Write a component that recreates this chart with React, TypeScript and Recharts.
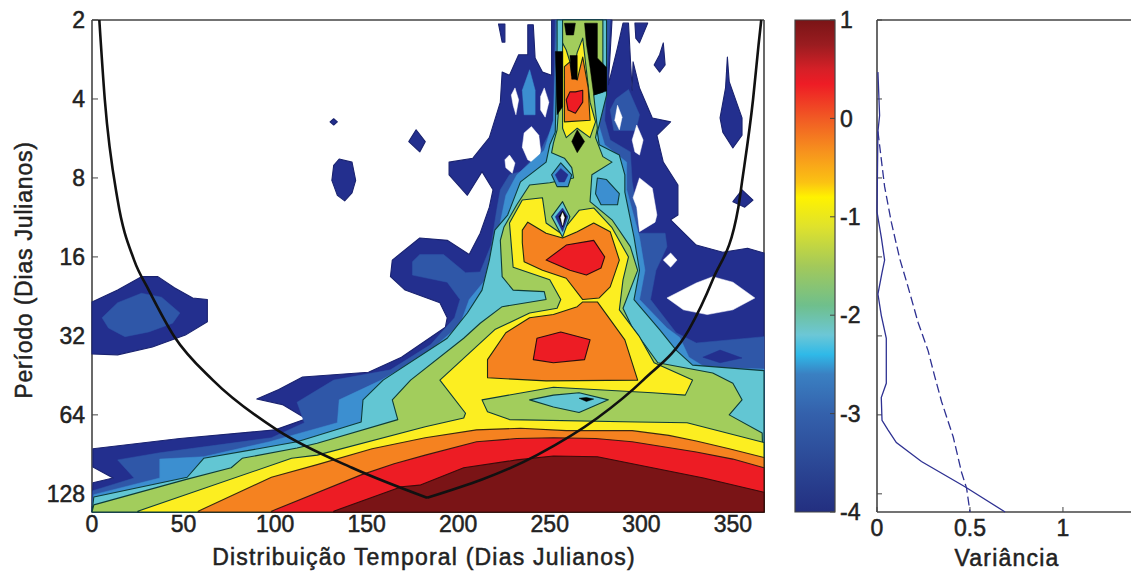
import { ScatterChart, Scatter, BarChart, Bar, XAxis, YAxis } from "recharts";

type Pt = [number, number];

// contour outlines: [julian day, log2(period)]
const navyMain: Pt[] = [[0,7.23],[0.5,6.86],[11.5,6.8],[0.5,6.66],[0.5,6.43],[48,6.3],[100,6.19],[117,6.05],[104,5.87],[90,5.8],[102,5.68],[115,5.52],[151,5.46],[169,5.27],[193,4.89],[194,4.77],[190,4.58],[171,4.42],[163,4.25],[164,4.04],[179,3.76],[194,3.79],[206,3.97],[212,3.7],[217,3.37],[219,3.15],[213,2.92],[205,3.22],[195,2.96],[195,2.8],[208,2.75],[217,2.49],[223,2.04],[224,1.66],[228,1.7],[233,1.44],[238,1.44],[238,1.06],[241,1.06],[242,1.48],[246,1.66],[251,1.7],[251,1],[284,1],[282,1.82],[287,1.35],[290,1.04],[293,1.04],[294,1.48],[295,1.89],[295.5,1.53],[299,1.86],[306,2.24],[316,2.29],[308.5,2.46],[312,2.8],[320,3.09],[320,3.47],[316,3.53],[330,3.85],[344.5,3.94],[358,3.89],[367,3.95],[367,7.23]];
const navyBlobs: Pt[][] = [
  [[0,4.57],[14,4.42],[27,4.25],[36,4.25],[45,4.39],[55,4.52],[63,4.54],[63,4.82],[51,4.99],[33,5.14],[14,5.24],[0,5.23]],
  [[132,2.25],[134,2.29],[132,2.33],[130,2.29]],
  [[132,2.84],[135,2.76],[142,2.8],[144,3.03],[142,3.19],[138,3.29],[134,3.22],[131,3.03]],
  [[177,2.39],[182,2.54],[179,2.67],[173,2.54]],
  [[222,1.05],[225.5,1.05],[225.5,1.28],[224,1.28]],
  [[296.5,1.04],[303.5,1.04],[299,1.29],[297,1.23]],
  [[312,1.29],[313,1.57],[310,1.66],[307,1.57],[310,1.44]],
  [[347,1.47],[348,1.78],[355,2.24],[355,2.46],[350,2.62],[344.5,2.42],[343,2.24],[346,1.86]],
  [[350,3.3],[355,3.15],[361,3.28],[356.5,3.37]],
];
const blueMain: Pt[] = [[0.5,6.96],[23,6.8],[14,6.57],[37,6.48],[98,6.29],[116,6.1],[112,5.84],[132,5.56],[163,5.43],[185,5.11],[198,4.77],[201,4.54],[194,4.32],[175,4.23],[175,4.06],[179,3.97],[192,3.97],[204,4.2],[212,4.19],[218,3.85],[221,3.41],[223,3.15],[228,2.96],[234,2.92],[245,2.65],[252,2.33],[253,1],[283,1],[280,2.27],[283,2.52],[294,2.67],[295,3.05],[298,3.47],[298,3.7],[313,3.7],[314,3.87],[308,4.17],[305,4.54],[319,4.96],[330,5.09],[367,5.01],[367,7.23],[0,7.23]];
const blueBlobs: Pt[][] = [
  [[5.5,4.77],[14,4.58],[27,4.46],[38,4.51],[48,4.71],[44,4.84],[31,4.95],[18,5.01],[9,4.9]],
  [[283,2.14],[286,2.0],[293,1.88],[299,2.2],[297,2.4],[285,2.4]],
];
const skyBlobs: Pt[][] = [
  [[235,1.89],[239,1.63],[242,1.89],[242,2.2],[236,2.2]],
];
const holes: Pt[][] = [
  [[231,1.86],[233,2.01],[231.5,2.2],[230,2.08],[229,1.95]],
  [[247,1.86],[249.5,2.04],[247.5,2.23],[245,2.14],[245,1.97]],
  [[240,2.35],[244,2.46],[245,2.65],[243.5,2.84],[238,2.77],[235,2.61],[236,2.43]],
  [[228,2.71],[231,2.81],[229.5,2.94],[226,2.87],[225.5,2.77]],
  [[287,2.08],[289.5,2.23],[288,2.39],[285.5,2.27]],
  [[297.5,2.33],[301,2.52],[299,2.71],[296.5,2.67],[295,2.52]],
  [[299,3],[306,3.13],[308.5,3.47],[307.5,3.56],[299,3.68],[297.5,3.37],[295.5,3.25]],
  [[314,4.52],[330,4.33],[339,4.25],[350,4.32],[362,4.52],[350,4.67],[336,4.73],[323,4.67]],
  [[312,4.04],[316,3.95],[319.5,4.04],[316,4.13]],
];
const skyMain: Pt[] = [[1,7.01],[37,6.8],[37,6.56],[61,6.53],[97,6.34],[134,6.1],[135,5.81],[158,5.56],[182,5.24],[201,4.86],[206,4.54],[217,4.23],[221,3.79],[226,3.22],[232,2.96],[247,2.65],[252,2.27],[254,1],[280,1],[276,2.27],[280,2.58],[292,2.8],[292,3.15],[299,3.75],[302,4.17],[299,4.54],[314,4.9],[321,5.02],[326,5.27],[335,5.4],[367,5.42],[367,7.23],[0,7.23]];
const tealMain: Pt[] = [[1,7.04],[52,6.79],[61,6.55],[93,6.42],[112,6.34],[147,6.09],[148,5.81],[159,5.56],[194,5.03],[205,4.71],[213,4.42],[217,4.04],[220,3.66],[227,3.47],[234,3.05],[248,2.8],[250,2.58],[253,2.42],[254,1.35],[254,1],[281,1],[281,1.95],[276,2.42],[277,2.58],[288,2.71],[291,2.96],[291,3.18],[296,3.75],[299,4.17],[296,4.54],[310,4.92],[319,5.18],[328,5.37],[367,5.44],[367,7.23],[0,7.23]];
const greenMain: Pt[] = [[1,7.14],[51,6.82],[76,6.67],[82,6.55],[112,6.42],[123,6.36],[167,6.06],[164,5.81],[174,5.56],[203,5.03],[212,4.84],[224,4.63],[248,4.54],[247,4.44],[230,4.42],[224,4.25],[223,3.79],[225,3.62],[232,3.34],[239,3.09],[250,3.06],[263,3],[262,2.87],[258,2.75],[251,2.68],[252,2.56],[254,2.39],[257,1.44],[257,1],[279,1],[279,1.91],[274,1.95],[276,2.37],[275,2.49],[279,2.73],[284,2.8],[273,2.96],[272,3.3],[284,3.53],[294,3.87],[298,4.17],[290,4.65],[295,4.89],[309,5.34],[339,5.47],[350,5.6],[355,5.81],[348,6],[366,6.23],[367,7.23],[0,7.23]];
const yellowMain: Pt[] = [[25,7.22],[109,6.55],[123,6.51],[182,6.15],[203,6.04],[204,5.98],[190,5.56],[220,4.92],[239,4.71],[254,4.65],[256,4.54],[250,4.29],[230,4.13],[228,3.57],[235,3.28],[246,3.25],[248,3.57],[256,3.7],[266,3.41],[274,3.38],[284,3.63],[293,4],[290,4.29],[288,4.67],[299,5.01],[307,5.34],[328,5.56],[324,5.75],[306,5.72],[252,5.65],[213,5.81],[216,5.96],[228,6.06],[298,6.09],[325,6.1],[367,6.35],[367,7.23],[25,7.23]];
const yellowColumn: Pt[] = [[257,1.29],[257,2.37],[259,2.49],[265,2.37],[272,2.49],[275,2.29],[272,2.04],[268,1.23],[265,1.41],[263,1.63],[261,1.53],[259,1.38]];
const orangeDome: Pt[] = [[58,7.22],[98,6.79],[123,6.63],[153,6.43],[182,6.29],[210,6.19],[234,6.17],[259,6.2],[295,6.2],[315,6.26],[330,6.33],[348,6.43],[367,6.54],[367,7.23],[58,7.23]];
const orangeUpper: Pt[] = [[238,3.56],[235,3.66],[235,3.82],[236,4.06],[246,4.17],[259,4.27],[268,4.54],[277,4.52],[283,4.38],[288,4.04],[283,3.68],[274,3.57],[265,3.68],[257,3.76],[248,3.7]];
const orangeLower: Pt[] = [[268,4.57],[276,4.57],[291,5.05],[298,5.56],[248,5.57],[216,5.53],[216,5.3],[226,4.96],[239,4.77],[252,4.73],[265,4.63]];
const orangeColumn: Pt[] = [[258,1.59],[258,2.29],[272,2.27],[271,1.86],[268,1.47],[266,1.66],[265,1.76],[262,1.7],[261,1.53]];
const redDome: Pt[] = [[98,7.22],[147,6.76],[165,6.62],[182,6.51],[210,6.34],[232,6.3],[252,6.29],[275,6.3],[295,6.34],[330,6.47],[350,6.56],[367,6.67],[367,7.23],[98,7.23]];
const redUpper: Pt[] = [[248,4.04],[259,3.85],[274,3.79],[280,4],[278,4.14],[270,4.23],[261,4.17]];
const redLower: Pt[] = [[241,5.3],[243,5.03],[256,4.95],[272,5.05],[269,5.3],[252,5.34]];
const redColumn: Pt[] = [[259,2.01],[261,1.91],[264,1.91],[268,1.89],[268,2.04],[264,2.18],[260,2.14]];
const darkDome: Pt[] = [[132,7.22],[169,6.91],[179,6.89],[203,6.67],[232,6.57],[252,6.52],[276,6.53],[306,6.67],[334,6.8],[367,6.98],[367,7.23],[132,7.23]];
const tealDips: Pt[][] = [
  [[239,5.81],[252,5.75],[266,5.72],[282,5.81],[266,5.97],[252,5.9]],
  [[251,3.49],[257,3.3],[261,3.49],[257,3.75]],
];
const skyDips: Pt[][] = [
  [[276,3],[281,3.02],[288,3.2],[287,3.34],[278,3.34],[275,3.2]],
  [[251,2.96],[256,2.81],[262,2.96],[260,3.11],[254,3.11]],
];
const navyDips: Pt[][] = [
  [[333.6,5.27],[343,5.18],[355,5.28],[343,5.34]],
  [[253,2.96],[256,2.88],[260,2.96],[258,3.05],[255,3.05]],
  [[253,3.49],[257,3.38],[260,3.49],[257,3.68]],
];
const blackCores: Pt[][] = [
  [[258,1.04],[264,1.04],[263,1.19],[259,1.19]],
  [[269,1.04],[276,1.04],[276,1.48],[281,1.6],[281,1.9],[274,1.95],[272,1.6],[270,1.3]],
  [[253,1.4],[257,1.4],[257,2.1],[254,2.2]],
  [[261,1.45],[265,1.45],[265,1.75],[262,1.75]],
  [[265,2.39],[269,2.54],[265,2.68],[262,2.54]],
  [[255,3.49],[257,3.42],[259,3.49],[257,3.62]],
  [[266,5.79],[270,5.78],[274,5.8],[270,5.83]],
];
const whiteCore: Pt[] = [[256,3.5],[257,3.44],[258,3.5],[257,3.6]];

// cone of influence, one list per branch
const coneLeft: Pt[] = [[4,1],[7,2.01],[14,3.28],[23,4.04],[31,4.42],[45,5.01],[66,5.56],[101,6.19],[142,6.67],[183,7.05]];
const coneRight: Pt[] = [[183,7.05],[243,6.51],[276,6.04],[301,5.56],[326,4.92],[339,4.29],[353,3.37],[355,3.05],[361,2.01],[364,1.32],[365.5,1]];

// global wavelet spectrum: [variance, log2(period)]
const varianceSolid: Pt[] = [[0.005,1.66],[0.014,2.21],[0.005,2.41],[0,3.43],[0.023,3.75],[0.041,4.04],[0.027,4.2],[0.005,4.47],[0.023,4.74],[0.05,5.03],[0.05,5.6],[0.023,5.78],[0.027,6.07],[0.059,6.19],[0.104,6.35],[0.239,6.59],[0.473,6.91],[0.689,7.23]];
const varianceDashed: Pt[] = [[0.005,2.41],[0.027,2.84],[0.041,3.11],[0.077,3.56],[0.122,4.02],[0.167,4.38],[0.221,4.83],[0.275,5.19],[0.31,5.51],[0.347,5.83],[0.41,6.28],[0.455,6.73],[0.482,6.93],[0.5,7.23]];

const dayTicks = [0, 50, 100, 150, 200, 250, 300, 350];
const octaveTicks = [1, 2, 3, 4, 5, 6, 7];
const colorTicks = [-4, -3, -2, -1, 0, 1];
const varianceTicks = [0, 0.5, 1];
const colorRange = [{ name: "power", range: [-4, 1] }];

const NAVY = "#232f8e";
const BLUE = "#2f57a8";
const SKY = "#3c8fd0";
const TEAL = "#62c6d3";
const GREEN = "#a2cd5c";
const YELLOW = "#fcee21";
const ORANGE = "#f58220";
const RED = "#ed1c24";
const DARK = "#7a1416";
const EDGE = "#0d3b38";
const FRAME = "#444";
const INK = "#222";
const FONT = "'Liberation Sans', Arial, sans-serif";

const jetStops: [number, string][] = [
  [0, "#7a1416"], [5, "#9a1c20"], [10, "#d52027"], [13, "#ee1c25"], [20, "#f15a24"],
  [27, "#f7941d"], [33, "#fbc213"], [36, "#fff200"], [42, "#dfe22c"], [50, "#a3c95a"],
  [58, "#6fbf8c"], [64, "#6cc7d6"], [68, "#2fb9e8"], [72, "#3a80c2"], [80, "#3461ac"], [100, "#232f80"],
];

const layers: { pts: Pt[]; fill: string; stroke?: string }[] = [
  { pts: navyMain, fill: NAVY, stroke: "#1a2370" },
  ...navyBlobs.map((pts) => ({ pts, fill: NAVY, stroke: "#1a2370" })),
  { pts: blueMain, fill: BLUE },
  ...blueBlobs.map((pts) => ({ pts, fill: BLUE })),
  ...skyBlobs.map((pts) => ({ pts, fill: SKY })),
  ...holes.map((pts) => ({ pts, fill: "#fff" })),
  { pts: skyMain, fill: SKY },
  { pts: tealMain, fill: TEAL, stroke: EDGE },
  { pts: greenMain, fill: GREEN, stroke: EDGE },
  { pts: yellowMain, fill: YELLOW, stroke: EDGE },
  { pts: yellowColumn, fill: YELLOW, stroke: EDGE },
  { pts: orangeDome, fill: ORANGE, stroke: "#3a2a10" },
  { pts: orangeUpper, fill: ORANGE, stroke: "#1d2a10" },
  { pts: orangeLower, fill: ORANGE, stroke: "#1d2a10" },
  { pts: orangeColumn, fill: ORANGE, stroke: "#1d2a10" },
  { pts: redDome, fill: RED, stroke: "#3a1a10" },
  { pts: redUpper, fill: RED, stroke: "#2a0d0d" },
  { pts: redLower, fill: RED, stroke: "#2a0d0d" },
  { pts: redColumn, fill: RED, stroke: "#2a0d0d" },
  { pts: darkDome, fill: DARK, stroke: "#3a0a0a" },
  ...tealDips.map((pts) => ({ pts, fill: TEAL, stroke: EDGE })),
  ...skyDips.map((pts) => ({ pts, fill: SKY, stroke: EDGE })),
  ...navyDips.map((pts) => ({ pts, fill: NAVY })),
  ...blackCores.map((pts) => ({ pts, fill: "#000" })),
  { pts: whiteCore, fill: "#fff" },
];

const toXY = (pts: Pt[]) => pts.map(([x, y]) => ({ x, y }));
const noMark = () => null;
const noLabel = () => "";

const polygonOf = (fill: string, stroke?: string) => (props: any) => (
  <polygon
    points={props.points.map((p: any) => `${p.x},${p.y}`).join(" ")}
    fill={fill}
    stroke={stroke ?? fill}
    strokeWidth={stroke ? 1.1 : 0.5}
    strokeLinejoin="round"
  />
);

const tickStyle = { fontSize: 23, fill: INK, fontFamily: FONT, stroke: INK, strokeWidth: 0.5 };
const labelStyle = { fontSize: 23, fill: INK, fontFamily: FONT, stroke: INK, strokeWidth: 0.5 };
const axisLine = { stroke: FRAME, strokeWidth: 1.6 };

function WaveletPanel() {
  return (
    <ScatterChart width={780} height={571} margin={{ top: 19, right: 15, bottom: 0, left: 0 }}>
      {layers.map((layer, i) => (
        <Scatter
          key={i}
          data={toXY(layer.pts)}
          shape={noMark}
          line={polygonOf(layer.fill, layer.stroke)}
          isAnimationActive={false}
        />
      ))}
      <Scatter data={toXY(coneLeft)} shape={noMark} line={{ stroke: "#111", strokeWidth: 2.6 }} lineJointType="monotoneX" isAnimationActive={false} />
      <Scatter data={toXY(coneRight)} shape={noMark} line={{ stroke: "#111", strokeWidth: 2.6 }} lineJointType="monotoneX" isAnimationActive={false} />
      <XAxis
        dataKey="x"
        type="number"
        domain={[0, 367]}
        ticks={dayTicks}
        height={59}
        tickSize={-6}
        tickMargin={10}
        tick={tickStyle}
        stroke={FRAME}
        axisLine={axisLine}
        label={{ value: "Distribuição Temporal (Dias Julianos)", position: "insideBottom", offset: 6, dx: -4, style: { ...labelStyle, letterSpacing: 1.2 } }}
      />
      <XAxis xAxisId="top" orientation="top" type="number" domain={[0, 367]} ticks={dayTicks} height={1} tickSize={-6} tickFormatter={noLabel} stroke={FRAME} axisLine={axisLine} />
      <YAxis
        dataKey="y"
        type="number"
        reversed
        domain={[1, 7.228]}
        ticks={octaveTicks}
        width={92}
        tickSize={-6}
        tickMargin={13}
        tick={tickStyle}
        tickFormatter={(v: number) => String(2 ** v)}
        stroke={FRAME}
        axisLine={axisLine}
        label={{ value: "Período (Dias Julianos)", angle: -90, position: { x: 32, y: 250 }, style: { ...labelStyle, textAnchor: "middle", letterSpacing: 0.8 } }}
      />
      <YAxis yAxisId="right" orientation="right" type="number" reversed domain={[1, 7.228]} ticks={octaveTicks} width={1} tickSize={-6} tickFormatter={noLabel} stroke={FRAME} axisLine={axisLine} />
    </ScatterChart>
  );
}

function ColorbarPanel() {
  return (
    <BarChart width={90} height={571} data={colorRange} barCategoryGap={0} margin={{ top: 20, right: 0, bottom: 59, left: 14 }}>
      <defs>
        <linearGradient id="jet" x1="0" y1="0" x2="0" y2="1">
          {jetStops.map(([offset, color]) => (
            <stop key={offset} offset={`${offset}%`} stopColor={color} />
          ))}
        </linearGradient>
      </defs>
      <Bar dataKey="range" fill="url(#jet)" stroke={FRAME} strokeWidth={1.2} isAnimationActive={false} />
      <XAxis dataKey="name" hide />
      <YAxis orientation="right" type="number" domain={[-4, 1]} ticks={colorTicks} width={35} tickSize={-5} tickMargin={10} tick={tickStyle} interval={0} stroke={FRAME} axisLine={false} />
      <YAxis yAxisId="left" type="number" domain={[-4, 1]} ticks={colorTicks} width={1} tickSize={-5} tickFormatter={noLabel} stroke={FRAME} axisLine={false} />
    </BarChart>
  );
}

function VariancePanel() {
  return (
    <ScatterChart width={271} height={571} margin={{ top: 19, right: 0, bottom: 0, left: 16 }}>
      <Scatter data={toXY(varianceSolid)} shape={noMark} line={{ stroke: "#2e3192", strokeWidth: 1.3 }} isAnimationActive={false} />
      <Scatter data={toXY(varianceDashed)} shape={noMark} line={{ stroke: "#2e3192", strokeWidth: 1.3, strokeDasharray: "9 4" }} isAnimationActive={false} />
      <XAxis
        dataKey="x"
        type="number"
        domain={[0, 1.366]}
        ticks={varianceTicks}
        height={59}
        tickSize={-5}
        tickMargin={13}
        tick={tickStyle}
        stroke={FRAME}
        axisLine={axisLine}
        label={{ value: "Variância", position: "insideBottom", offset: 5, dx: 3, style: { ...labelStyle, letterSpacing: 1.2 } }}
      />
      <XAxis xAxisId="top" orientation="top" type="number" domain={[0, 1.366]} ticks={varianceTicks} height={1} tickSize={-5} tickFormatter={noLabel} stroke={FRAME} axisLine={axisLine} />
      <YAxis dataKey="y" type="number" reversed domain={[1, 7.228]} ticks={octaveTicks} width={1} tickSize={-5} tickFormatter={noLabel} stroke={FRAME} axisLine={axisLine} />
    </ScatterChart>
  );
}

export default function App() {
  return (
    <div style={{ position: "absolute", left: 0, top: 0, width: 1131, height: 571, background: "#fff", overflow: "hidden" }}>
      <div style={{ position: "absolute", left: 0, top: 0 }}><WaveletPanel /></div>
      <div style={{ position: "absolute", left: 780, top: 0 }}><ColorbarPanel /></div>
      <div style={{ position: "absolute", left: 860, top: 0 }}><VariancePanel /></div>
    </div>
  );
}
